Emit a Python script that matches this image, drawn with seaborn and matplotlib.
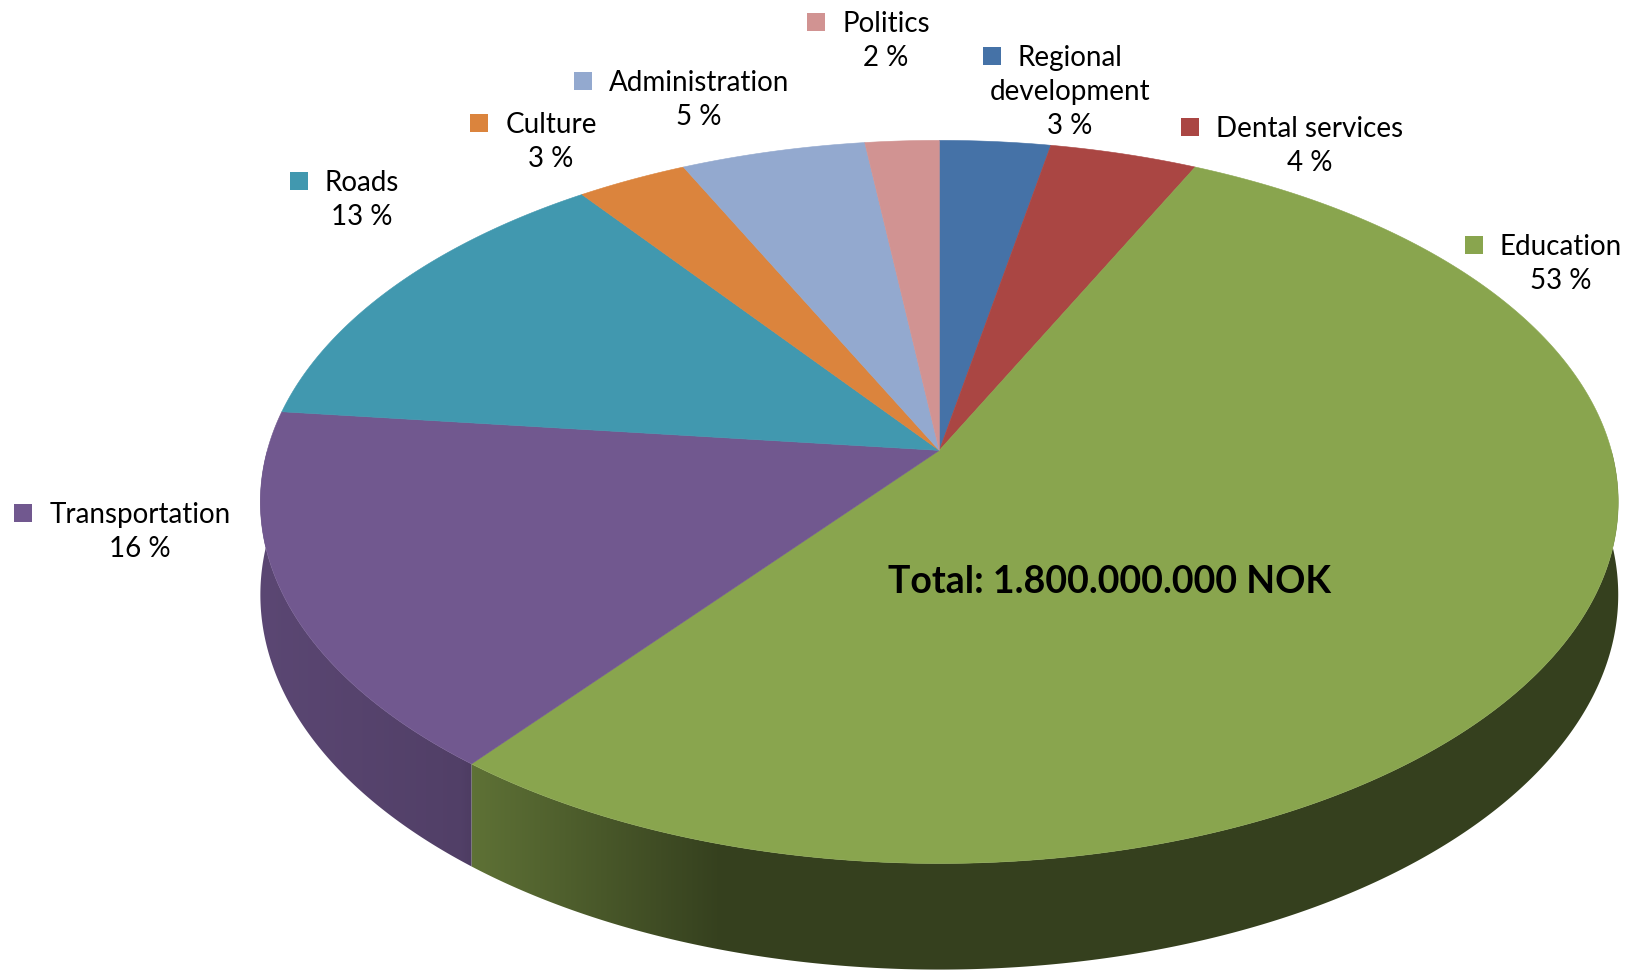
import numpy as np
import matplotlib
matplotlib.use("Agg")
import matplotlib.pyplot as plt
from matplotlib.patches import Polygon
from matplotlib.colors import to_rgb
import seaborn as sns

# Budget shares, clockwise from 12 o'clock
categories = ["Regional\ndevelopment", "Dental services", "Education", "Transportation",
              "Roads", "Culture", "Administration", "Politics"]
shares = [3, 4, 53, 16, 13, 3, 5, 2]
colors = ["#4572A7", "#AA4643", "#89A54E", "#71588F", "#4198AF", "#DB843D", "#93A9CF", "#D19392"]
total_text = "Total: 1.800.000.000 NOK"

# label anchors (centre of name, baseline of first line) in pixel coords
label_pos = [(1070, 66), (1310, 137), (1561, 255), (140, 523),
             (362, 191), (551, 133), (699, 91), (886, 32)]

sns.set_style("white")
plt.rcParams["font.family"] = ["Lato", "DejaVu Sans"]

W, H = 1631, 972
fig = plt.figure(figsize=(W / 100, H / 100), dpi=100)
ax = fig.add_axes([0, 0, 1, 1])
ax.set_xlim(0, W)
ax.set_ylim(H, 0)
ax.axis("off")

# perspective projection of the tilted disc
CX, CY = 939.3, 450.4
S, C, K, DEPTH = 672.0, 354.2, 0.1425, 91.0


def project(theta, z=0.0):
    u, w = np.cos(theta), np.sin(theta)
    d = 1 + K * w
    return CX + S * u / d, CY + (-C * w + z) / d


def side_shade(x):
    return np.interp(x, [270, 460, 470, 720], [0.80, 0.72, 0.69, 0.39])


frac = np.cumsum([0] + shares) / sum(shares)
angles = np.deg2rad(90 - 360 * frac)  # clockwise

# side walls (front half only), shaded left to right
for i, col in enumerate(colors):
    a0, a1 = angles[i], angles[i + 1]  # a0 > a1
    hi, lo = min(a0, 0.0), max(a1, -np.pi)
    if hi <= lo:
        continue
    t = np.linspace(hi, lo, 400)
    xt, yt = project(t)
    xb, yb = project(t, DEPTH)
    pts = np.column_stack([np.r_[xt, xb[::-1]], np.r_[yt, yb[::-1]]])
    wall = Polygon(pts, closed=True, facecolor="none", edgecolor="none")
    ax.add_patch(wall)
    x0, x1 = pts[:, 0].min() - 2, pts[:, 0].max() + 2
    y0, y1 = pts[:, 1].min() - 2, pts[:, 1].max() + 2
    xs = np.linspace(x0, x1, 600)
    grad = np.array(to_rgb(col))[None, None, :] * side_shade(xs)[None, :, None]
    im = ax.imshow(grad, extent=[x0, x1, y1, y0], aspect="auto", interpolation="bilinear", zorder=1)
    im.set_clip_path(wall)

ax.set_xlim(0, W)
ax.set_ylim(H, 0)

# top face
for i, col in enumerate(colors):
    t = np.linspace(angles[i], angles[i + 1], 300)
    xs, ys = project(t)
    pts = np.column_stack([np.r_[CX, xs], np.r_[CY, ys]])
    ax.add_patch(Polygon(pts, closed=True, facecolor=col, edgecolor=col, linewidth=0.4, zorder=2))

# labels with colour keys
renderer = fig.canvas.get_renderer()
fs = 20
line_h = 34
for name, pct, col, (lx, ly) in zip(categories, shares, colors, label_pos):
    lines = name.split("\n")
    for k, ln in enumerate(lines):
        txt = ax.text(lx, ly + k * line_h, ln, ha="center", va="baseline", fontsize=fs, color="black")
        if k == 0:
            bb = txt.get_window_extent(renderer=renderer)
            ax.scatter([lx - bb.width / 2 - 26], [ly - 10], marker="s", s=150,
                       color=col, linewidths=0, zorder=5)
    ax.text(lx, ly + len(lines) * line_h, f"{pct} %", ha="center", va="baseline",
            fontsize=fs, color="black")

ax.text(1110, 593, total_text, ha="center", va="baseline", fontsize=27,
        fontweight="bold", color="black", zorder=6)

fig.savefig("out.png", dpi=100)
